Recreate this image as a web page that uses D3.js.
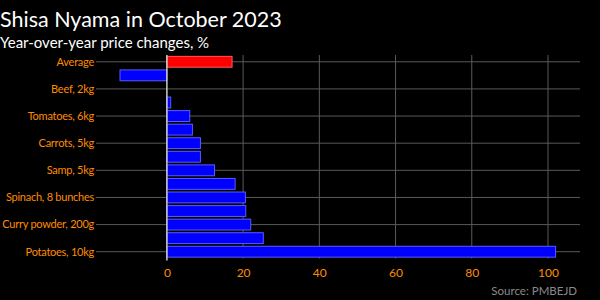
<!DOCTYPE html>
<html>
<head>
<meta charset="utf-8">
<script src="https://cdn.jsdelivr.net/npm/d3@7"></script>
<style>
  body { margin: 0; background: #000; }
  svg { display: block; font-family: Lato, sans-serif; }
</style>
</head>
<body>
<div class="canvas"></div>
<script>
// Data
var categories = ['Average', 'Onions, 10kg', 'Beef, 2kg', 'Cabbage, 1', 'Tomatoes, 6kg', 'Rice, 10kg',
  'Carrots, 5kg', 'Maize meal, 10kg', 'Samp, 5kg', 'Chicken livers, 1kg', 'Spinach, 8 bunches',
  'Cooking oil, 2L', 'Curry powder, 200g', 'Butternut, 10kg', 'Potatoes, 10kg'];
var values = [17.1, -12.3, 0, 1.0, 6.0, 6.7, 8.8, 8.8, 12.5, 17.9, 20.6, 20.7, 22.0, 25.3, 102.0];
var xTicks = [0, 20, 40, 60, 80, 100];

var width = 600, height = 300;
var svg = d3.select('.canvas').append('svg').attr('width', width).attr('height', height);

// Plot area
var plot = { left: 96, right: 580, top: 55, bottom: 258.5 };

var x = d3.scaleLinear().domain([-18.6, 108.4]).range([plot.left, plot.right]);
var y = d3.scaleBand().domain(categories).range([plot.top, plot.bottom]).paddingInner(0.2).paddingOuter(0.1);

// Vertical gridlines
svg.append('g').selectAll('line').data(xTicks.filter(function (d) { return d !== 0; })).enter().append('line')
  .attr('x1', function (d) { return x(d); }).attr('x2', function (d) { return x(d); })
  .attr('y1', plot.top).attr('y2', plot.bottom)
  .attr('stroke', '#5a5a5a').attr('stroke-width', 1);

// Horizontal gridlines at labelled categories
var shown = categories.filter(function (d, i) { return i % 2 === 0; });
svg.append('g').selectAll('line').data(shown).enter().append('line')
  .attr('x1', plot.left).attr('x2', plot.right)
  .attr('y1', function (d) { return y(d) + y.bandwidth() / 2; })
  .attr('y2', function (d) { return y(d) + y.bandwidth() / 2; })
  .attr('stroke', '#5a5a5a').attr('stroke-width', 1);

// Bars
svg.append('g').selectAll('rect').data(categories).enter().append('rect')
  .attr('x', function (d, i) { return x(Math.min(0, values[i])); })
  .attr('y', function (d) { return y(d); })
  .attr('width', function (d, i) { return Math.abs(x(values[i]) - x(0)); })
  .attr('height', y.bandwidth())
  .attr('fill', function (d, i) { return i === 0 ? '#ff0000' : '#0000ff'; })
  .attr('stroke', function (d, i) { return i === 0 ? '#ff5a5a' : '#5a5aff'; })
  .attr('stroke-width', 1);

// Zero line
svg.append('line')
  .attr('x1', x(0)).attr('x2', x(0)).attr('y1', plot.top).attr('y2', plot.bottom + 2)
  .attr('stroke', '#cccccc').attr('stroke-width', 1.5);

// Y axis labels (every other category)
svg.append('g').selectAll('text').data(shown).enter().append('text')
  .attr('x', plot.left - 2)
  .attr('y', function (d) { return y(d) + y.bandwidth() / 2; })
  .attr('dy', '0.35em')
  .attr('text-anchor', 'end')
  .attr('fill', '#ff8c00')
  .style('font-size', '11px')
  .style('letter-spacing', '-0.25px')
  .text(function (d) { return d; });

// X axis
var xAxis = d3.axisBottom(x).tickValues(xTicks).tickSize(0).tickPadding(10);
var xAxisGroup = svg.append('g').attr('transform', 'translate(0,' + plot.bottom + ')').call(xAxis);
xAxisGroup.select('.domain').remove();
xAxisGroup.selectAll('text').attr('fill', '#ff8c00').style('font-size', '12px').style('font-family', 'Lato, sans-serif');

// Titles
svg.append('text').attr('x', 0).attr('y', 27).attr('fill', '#ffffff')
  .style('font-size', '21.5px').text('Shisa Nyama in October 2023');
svg.append('text').attr('x', 0).attr('y', 48).attr('fill', '#ffffff')
  .style('font-size', '15px').text('Year-over-year price changes, %');

// Source
svg.append('text').attr('x', 577).attr('y', 295).attr('text-anchor', 'end').attr('fill', '#8a8a8a')
  .style('font-size', '11.5px').text('Source: PMBEJD');
</script>
</body>
</html>
